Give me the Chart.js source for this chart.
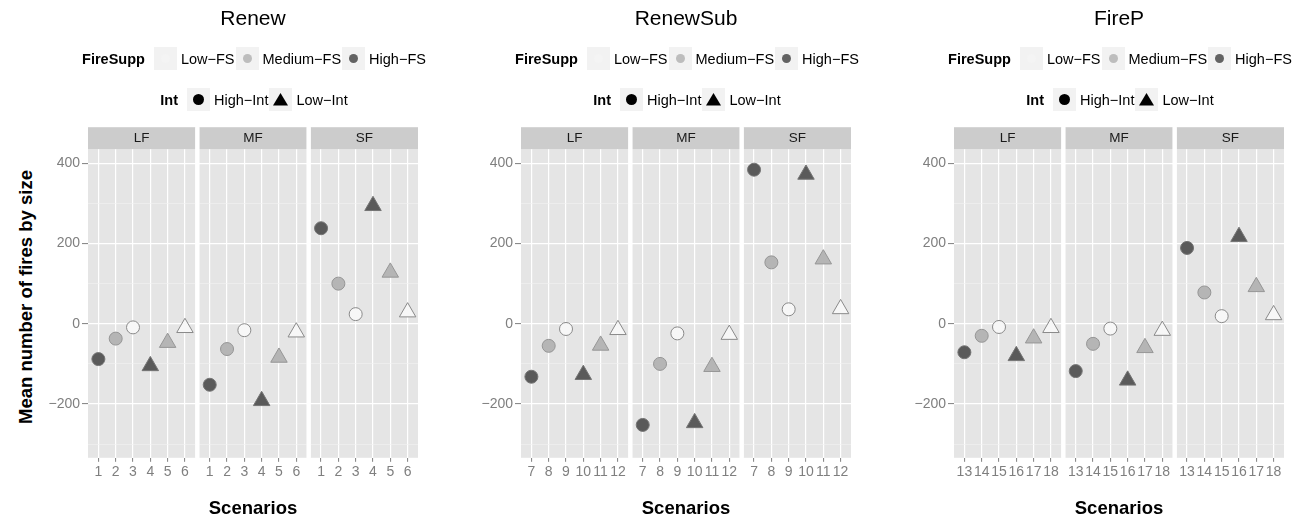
<!DOCTYPE html>
<html>
<head>
<meta charset="utf-8">
<script src="https://cdn.jsdelivr.net/npm/chart.js@4.4.1/dist/chart.umd.min.js"></script>
<style>
  body { margin: 0; background: #fff; font-family: 'Liberation Sans', Arial, sans-serif; }
  #page { position: relative; width: 1309px; height: 520px; overflow: hidden; }
  .panel { position: absolute; top: 0; width: 433px; height: 520px; }
  .panel canvas { position: absolute; left: 0; top: 0; }
  .legrow { position: absolute; left: 0; width: 509px; display: flex; justify-content: center; align-items: center; height: 23px; font-size: 14.5px; color: #000; }
  .legrow .ttl { font-weight: bold; margin-right: 9px; }
  .legrow .key { width: 23px; height: 23px; background: #f2f2f2; display: flex; align-items: center; justify-content: center; }
  .legrow .lab { margin: 0 1px 0 4px; }
  .dot { border-radius: 50%; }
  #ytitle { position: absolute; left: -124px; top: 286px; width: 300px; text-align: center; line-height: 22px; font-weight: bold; font-size: 18.5px; transform: rotate(-90deg); }
</style>
</head>
<body>
<div id="page">
  <div id="ytitle">Mean number of fires by size</div>
</div>
<script>
const panels = ['Renew', 'RenewSub', 'FireP'];
const facets = ['LF', 'MF', 'SF'];
const scenarios = [
  [1, 2, 3, 4, 5, 6],
  [7, 8, 9, 10, 11, 12],
  [13, 14, 15, 16, 17, 18]
];
// FireSupp and Int level for each of the six scenarios in a facet
const fireSupp = ['High-FS', 'Medium-FS', 'Low-FS', 'High-FS', 'Medium-FS', 'Low-FS'];
const intensity = ['High-Int', 'High-Int', 'High-Int', 'Low-Int', 'Low-Int', 'Low-Int'];

// mean number of fires by size
const renewLF = [-88, -37, -9, -105, -47, -10];
const renewMF = [-152, -63, -16, -192, -84, -21];
const renewSF = [238, 100, 24, 294, 128, 29];
const renewSubLF = [-132, -55, -13, -127, -54, -15];
const renewSubMF = [-252, -100, -24, -247, -107, -27];
const renewSubSF = [384, 153, 36, 372, 161, 37];
const firePLF = [-71, -30, -8, -80, -36, -10];
const firePMF = [-118, -50, -12, -141, -60, -17];
const firePSF = [189, 78, 19, 217, 92, 22];

const yTicks = [-300, -200, -100, 0, 100, 200, 300, 400];
const yMin = -334, yMax = 435;

const values = [
  [renewLF, renewMF, renewSF],
  [renewSubLF, renewSubMF, renewSubSF],
  [firePLF, firePMF, firePSF]
];

const fsFill = { 'Low-FS': '#f7f7f7', 'Medium-FS': '#b5b5b5', 'High-FS': '#5a5a5a' };
const fsBorder = { 'Low-FS': '#8a8a8a', 'Medium-FS': '#969696', 'High-FS': '#747474' };
const fsKey = { 'Low-FS': '#f4f4f4', 'Medium-FS': '#bdbdbd', 'High-FS': '#636363' };

const FONT = "'Liberation Sans', Arial, sans-serif";
Chart.defaults.font.family = FONT;

const minus = v => v < 0 ? '\u2212' + Math.abs(v) : String(v);

// grey panels, facet strips and white gaps between facets
const facetPlugin = {
  id: 'facets',
  beforeDraw(chart) {
    const { ctx, chartArea } = chart;
    ctx.save();
    facets.forEach((f, i) => {
      const s = chart.scales['x' + i];
      ctx.fillStyle = '#e5e5e5';
      ctx.fillRect(s.left, chartArea.top, s.right - s.left, chartArea.bottom - chartArea.top);
      ctx.fillStyle = '#cccccc';
      ctx.fillRect(s.left, chartArea.top - 22, s.right - s.left, 22);
      ctx.fillStyle = '#1a1a1a';
      ctx.font = '13.5px ' + FONT;
      ctx.textAlign = 'center';
      ctx.textBaseline = 'middle';
      ctx.fillText(f, (s.left + s.right) / 2, chartArea.top - 10.5);
    });
    ctx.restore();
  },
  beforeDatasetsDraw(chart) {
    const { ctx, chartArea } = chart;
    ctx.save();
    ctx.fillStyle = '#ffffff';
    ['g0', 'g1'].forEach(id => {
      const s = chart.scales[id];
      ctx.fillRect(s.left, chartArea.top - 22, s.right - s.left, chartArea.bottom - chartArea.top + 22);
    });
    ctx.restore();
  }
};

function facetScale(ids) {
  return {
    type: 'linear', axis: 'x', position: 'bottom', stack: 'facets', stackWeight: 107,
    bounds: 'data', min: ids[0] - 0.6, max: ids[5] + 0.6,
    afterBuildTicks: s => { s.ticks = ids.map(v => ({ value: v })); },
    afterFit: s => { s.height = 30; },
    grid: { color: '#ffffff', lineWidth: 1.2, tickColor: '#7f7f7f', tickLength: 4, tickWidth: 1 },
    border: { display: false },
    ticks: { autoSkip: false, maxRotation: 0, padding: 2, color: '#7f7f7f', font: { size: 14 } }
  };
}

function spacer() {
  return { type: 'linear', axis: 'x', position: 'bottom', stack: 'facets', stackWeight: 4, display: false, min: 0, max: 1 };
}

const page = document.getElementById('page');

panels.forEach((name, p) => {
  const box = document.createElement('div');
  box.className = 'panel';
  box.style.left = (433 * p) + 'px';
  const cv = document.createElement('canvas');
  cv.width = 433; cv.height = 520;
  box.appendChild(cv);

  // legend rows (ggplot style)
  const row1 = document.createElement('div');
  row1.className = 'legrow';
  row1.style.top = '47px';
  let html = '<span class="ttl">FireSupp</span>';
  ['Low-FS', 'Medium-FS', 'High-FS'].forEach(l => {
    html += '<span class="key"><span class="dot" style="width:9px;height:9px;background:' + fsKey[l] + '"></span></span>' +
            '<span class="lab">' + l.replace('-', '\u2212') + '</span>';
  });
  row1.innerHTML = html;
  const row2 = document.createElement('div');
  row2.className = 'legrow';
  row2.style.top = '88px';
  row2.innerHTML = '<span class="ttl">Int</span>' +
    '<span class="key"><span class="dot" style="width:11px;height:11px;background:#000"></span></span>' +
    '<span class="lab">High\u2212Int</span>' +
    '<span class="key"><svg width="23" height="23"><polygon points="11.5,5 19,17.5 4,17.5" fill="#000"/></svg></span>' +
    '<span class="lab">Low\u2212Int</span>';
  box.appendChild(row1);
  box.appendChild(row2);
  page.appendChild(box);

  const scales = {
    x0: facetScale(scenarios[p]), g0: spacer(),
    x1: facetScale(scenarios[p]), g1: spacer(),
    x2: facetScale(scenarios[p]),
    y: {
      type: 'linear', position: 'left', bounds: 'data', min: yMin, max: yMax,
      afterBuildTicks: s => { s.ticks = yTicks.map(v => ({ value: v })); },
      afterFit: s => { s.width = 88; },
      grid: {
        color: c => c.tick && c.tick.value % 200 === 0 ? '#ffffff' : '#f2f2f2',
        lineWidth: c => c.tick && c.tick.value % 200 === 0 ? 1.2 : 0.6,
        tickColor: c => c.tick && c.tick.value % 200 === 0 ? '#7f7f7f' : 'rgba(0,0,0,0)',
        tickLength: 6, tickWidth: 1
      },
      border: { display: false },
      ticks: {
        padding: 2, color: '#7f7f7f', font: { size: 14 },
        callback: v => v % 200 === 0 ? minus(v) : ''
      }
    }
  };

  new Chart(cv, {
    type: 'scatter',
    data: {
      datasets: facets.map((f, i) => ({
        label: f,
        data: scenarios[p].map((s, j) => ({ x: s, y: values[p][i][j] })),
        xAxisID: 'x' + i,
        yAxisID: 'y',
        pointStyle: intensity.map(v => v === 'High-Int' ? 'circle' : 'triangle'),
        pointRadius: intensity.map(v => v === 'High-Int' ? 6.5 : 9.5),
        backgroundColor: fireSupp.map(v => fsFill[v]),
        borderColor: fireSupp.map(v => fsBorder[v]),
        borderWidth: 1,
        clip: false
      }))
    },
    options: {
      responsive: false,
      animation: false,
      devicePixelRatio: 1,
      events: [],
      layout: { padding: { left: 0, right: 15, top: 0, bottom: 0 } },
      scales: scales,
      plugins: {
        legend: { display: false },
        tooltip: { enabled: false },
        title: {
          display: true, text: name, fullSize: false, color: '#000',
          font: { size: 21, weight: 'normal' },
          padding: { top: 7, bottom: 117 }
        },
        subtitle: {
          display: true, text: 'Scenarios', position: 'bottom', fullSize: false, color: '#000',
          font: { size: 18.5, weight: 'bold' },
          padding: { top: 10, bottom: 0 }
        }
      }
    },
    plugins: [facetPlugin]
  });
});
</script>
</body>
</html>
